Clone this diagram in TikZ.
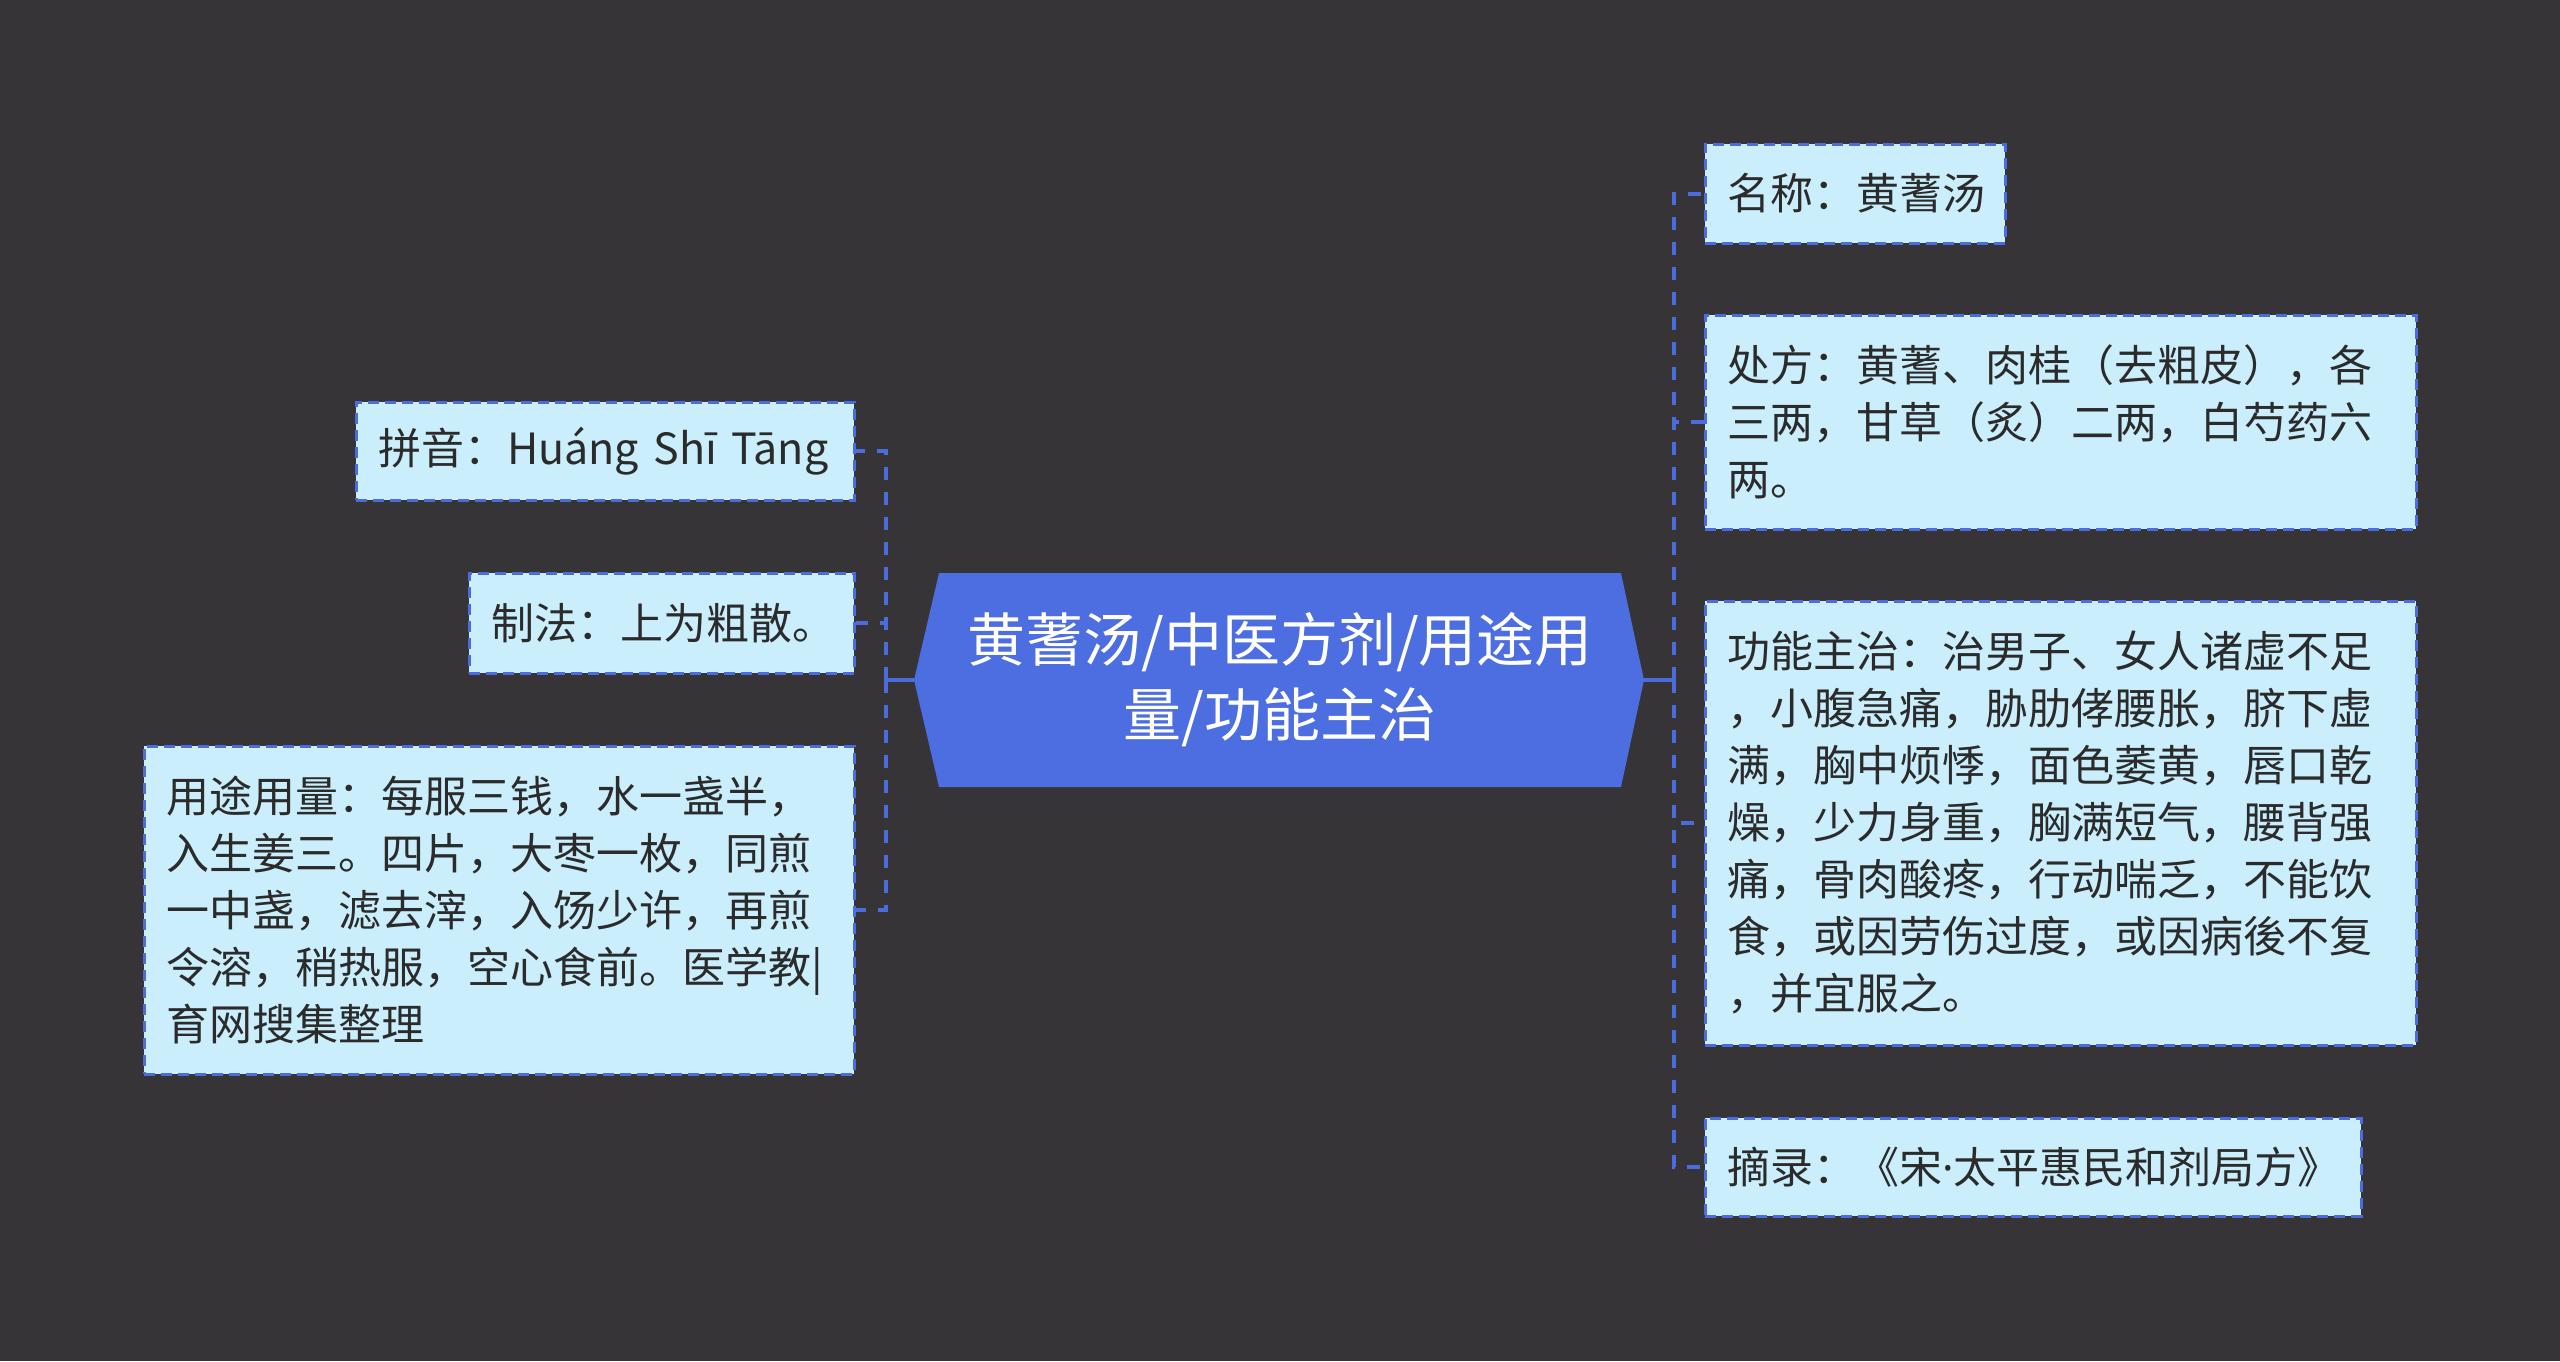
\documentclass[tikz,border=0pt]{standalone}
\usepackage{fontspec}
\setmainfont{Noto Sans CJK SC}
\newfontfamily\latinfont{Noto Sans}
\definecolor{bg}{HTML}{363436}
\definecolor{hexblue}{HTML}{4C6EE0}
\definecolor{linkblue}{HTML}{4A6CDD}
\definecolor{boxfill}{HTML}{CAEEFC}
\definecolor{boxtext}{HTML}{2B2B2B}
\tikzset{
  leafbox/.style={draw=linkblue, line width=1.5pt, dash pattern=on 5.5pt off 3pt,
    fill=boxfill, text=boxtext, font=\fontsize{21.5pt}{28.5pt}\selectfont,
    align=left, inner xsep=11pt, inner ysep=0pt, anchor=center},
  solidlink/.style={draw=linkblue, line width=2pt},
  dashlink/.style={draw=linkblue, line width=2pt, dash pattern=on 6.5pt off 6pt},
  centertext/.style={text=white, font=\fontsize{29pt}{37.5pt}\selectfont, align=center, inner sep=0pt}
}
\begin{document}
\begin{tikzpicture}[x=0.5pt, y=-0.5pt]
\fill[bg] (0,0) rectangle (2560,1361);
\useasboundingbox (0,0) rectangle (2560,1361);

% central hexagon
\fill[hexblue] (914,680) -- (939,573) -- (1621,573) -- (1644,680) -- (1621,787) -- (939,787) -- cycle;
\node[centertext] (c) at (1280,680) {黄蓍汤/中医方剂/用途用\\量/功能主治};
\coordinate (cL) at (914,680);
\coordinate (cR) at (1644,680);
\coordinate (jL) at (886,680);
\coordinate (jR) at (1674,680);

% left leaves
\node[leafbox, text width=227pt, minimum height=49pt] (pin) at (605,451) {拼音：Huáng Shī Tāng};
\node[leafbox, text width=170.5pt, minimum height=50pt] (zhi) at (661.5,623) {制法：上为粗散。};
\node[leafbox, text width=333pt, minimum height=164pt] (yong) at (499,910) {用途用量：每服三钱，水一盏半，\\入生姜三。四片，大枣一枚，同煎\\一中盏，滤去滓，入饧少许，再煎\\令溶，稍热服，空心食前。医学教|\\育网搜集整理};

% right leaves
\node[leafbox, text width=128pt, minimum height=49.5pt] (ming) at (1855,193.5) {名称：黄蓍汤};
\node[leafbox, text width=333.5pt, minimum height=107pt] (chu) at (2060.5,422) {处方：黄蓍、肉桂（去粗皮），各\\三两，甘草（炙）二两，白芍药六\\两。};
\node[leafbox, text width=333.5pt, minimum height=222pt] (gong) at (2060.5,823) {功能主治：治男子、女人诸虚不足\\，小腹急痛，胁肋侾腰胀，脐下虚\\满，胸中烦悸，面色萎黄，唇口乾\\燥，少力身重，胸满短气，腰背强\\痛，骨肉酸疼，行动喘乏，不能饮\\食，或因劳伤过度，或因病後不复\\，并宜服之。};
\node[leafbox, text width=306pt, minimum height=49pt] (zhai) at (2033,1167) {摘录：《宋{\latinfont ·}太平惠民和剂局方》};

% connectors
\draw[solidlink] (cL) -- (jL);
\draw[solidlink] (cR) -- (jR);
\draw[dashlink] (jL) |- (pin.east);
\draw[dashlink] (jL) |- (zhi.east);
\draw[dashlink] (jL) |- (yong.east);
\draw[dashlink] (jR) |- (ming.west);
\draw[dashlink] (jR) |- (chu.west);
\draw[dashlink] (jR) |- (gong.west);
\draw[dashlink] (jR) |- (zhai.west);
\end{tikzpicture}
\end{document}
